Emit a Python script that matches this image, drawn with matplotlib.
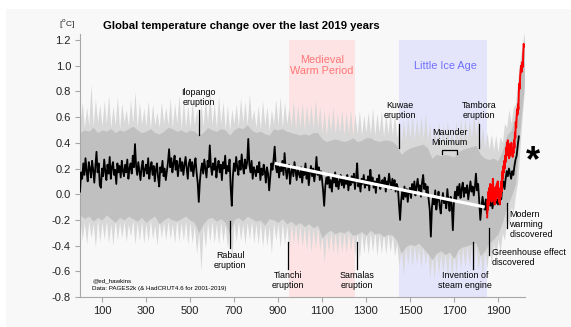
import matplotlib
matplotlib.use('Agg')
import matplotlib.pyplot as plt
import numpy as np
from matplotlib.patches import Rectangle

plt.rcParams['font.family'] = ['Liberation Sans', 'DejaVu Sans']

# ---------------- data ----------------
# PAGES2k reconstruction (black), 5-year steps from year 0
black_years = np.arange(0, 2000, 5)
black_vals = [
    0.02, 0.17, 0.12, 0.24, 0.15, 0.28, 0.18, 0.10, 0.25, 0.20, 0.13, 0.26, 0.19, 0.09, 0.22, 0.33, 0.17, 0.24, 0.07, 0.05,
    0.20, 0.14, 0.27, 0.18, 0.11, 0.23, 0.16, 0.29, 0.12, 0.21, 0.25, 0.15, 0.19, 0.08, 0.24, 0.17, 0.22, 0.13, 0.26, 0.18,
    0.14, 0.23, 0.17, 0.27, 0.12, 0.20, 0.24, 0.16, 0.30, 0.21, 0.39, 0.22, 0.15, 0.25, 0.18, 0.11, 0.21, 0.26, 0.14, 0.19,
    0.23, 0.16, 0.28, 0.12, 0.20, 0.25, 0.15, 0.22, 0.10, 0.19, 0.24, 0.13, 0.06, 0.21, 0.17, 0.26, 0.14, 0.20, 0.11, 0.18,
    0.25, 0.35, 0.21, 0.28, 0.17, 0.24, 0.30, 0.19, 0.26, 0.14, 0.22, 0.28, 0.18, 0.25, 0.15, 0.23, 0.29, 0.20, 0.12, 0.24,
    0.27, 0.18, 0.25, 0.14, 0.22, 0.28, 0.17, 0.09, -0.06, 0.10, 0.19, 0.24, 0.16, 0.27, 0.20, 0.13, 0.26, 0.21, 0.38, 0.22,
    0.15, 0.24, 0.19, 0.28, 0.13, 0.21, 0.26, 0.17, 0.23, 0.11, 0.25, 0.20, 0.30, 0.16, 0.22, 0.18, 0.27, 0.05, -0.09, 0.14,
    0.24, 0.18, 0.29, 0.21, 0.15, 0.26, 0.19, 0.31, 0.22, 0.16, 0.27, 0.20, 0.25, 0.43, 0.23, 0.17, 0.26, 0.12, 0.21, 0.18,
    0.14, 0.22, 0.17, 0.25, 0.11, 0.20, 0.15, 0.23, 0.18, 0.09, 0.21, 0.16, 0.03, 0.14, 0.24, 0.19, 0.27, 0.37, 0.22, 0.17,
    0.24, 0.13, 0.21, 0.18, 0.26, 0.15, 0.32, 0.20, 0.12, 0.19, 0.23, 0.08, 0.17, 0.22, 0.14, 0.25, 0.18, 0.11, 0.20, 0.16,
    0.13, 0.21, 0.09, 0.18, 0.15, 0.24, 0.12, 0.19, 0.07, 0.16, 0.22, 0.14, 0.20, 0.10, 0.17, 0.29, 0.15, 0.21, 0.11, 0.18,
    0.12, 0.03, -0.09, 0.06, 0.13, 0.08, 0.16, 0.05, 0.11, 0.02, 0.14, 0.09, 0.17, 0.06, 0.12, 0.04, 0.10, 0.15, 0.07, 0.13,
    0.05, 0.12, 0.08, 0.15, 0.03, 0.11, 0.07, 0.14, 0.09, 0.16, 0.04, 0.13, 0.24, 0.06, 0.10, 0.02, 0.12, 0.08, 0.15, 0.05,
    0.11, 0.07, 0.14, 0.03, 0.19, 0.09, 0.13, 0.05, 0.10, 0.01, 0.12, 0.08, 0.15, 0.04, 0.09, 0.11, 0.06, 0.13, 0.02, 0.10,
    0.07, 0.16, 0.09, 0.04, 0.12, 0.06, 0.11, 0.02, 0.08, 0.05, -0.08, -0.20, -0.05, 0.03, -0.04, 0.06, -0.02, 0.04, -0.06, 0.02,
    0.05, -0.03, 0.08, 0.02, 0.10, -0.01, 0.06, 0.12, 0.03, 0.07, -0.02, 0.09, 0.15, 0.04, 0.08, 0.01, 0.06, -0.04, -0.12, -0.33,
    -0.10, -0.02, -0.08, 0.03, -0.12, -0.04, 0.02, -0.09, -0.15, -0.05, 0.01, -0.07, -0.03, -0.11, 0.04, -0.06, -0.13, -0.02, -0.08, -0.28,
    -0.06, 0.02, -0.04, 0.06, -0.01, 0.08, -0.03, 0.04, 0.09, -0.02, 0.05, 0.01, 0.07, -0.04, 0.03, 0.10, 0.02, 0.06, -0.01, 0.05,
    0.16, 0.03, 0.08, -0.06, -0.20, -0.10, -0.02, -0.08, -0.12, -0.04, -0.15, -0.06, -0.01, -0.09, -0.03, -0.11, -0.05, 0.02, -0.07, -0.04,
    -0.08, -0.02, 0.03, -0.04, 0.06, 0.10, 0.04, 0.12, 0.18, 0.14, 0.20, 0.16, 0.12, 0.18, 0.15, 0.22, 0.27, 0.30, 0.38, 0.45,
]

# HadCRUT-based recent series (red), 2-year steps
red_years = np.arange(1851, 2020, 2)
red_vals = [
    -0.18, -0.05, -0.12, 0.02, -0.08,
    0.05, -0.03, 0.08, -0.02, 0.04,
    -0.06, 0.07, 0.01, 0.12, 0.03,
    -0.04, 0.05, -0.08, 0.02, -0.05,
    0.06, -0.03, 0.08, 0.01, 0.10,
    -0.02, 0.05, -0.06, 0.04, -0.08,
    0.03, -0.02, 0.10, 0.02, 0.14,
    0.18, 0.12, 0.22, 0.17, 0.26,
    0.20, 0.30, 0.25, 0.36, 0.31,
    0.40, 0.34, 0.42, 0.30, 0.36,
    0.28, 0.39, 0.30, 0.37, 0.33,
    0.40, 0.31, 0.36, 0.29, 0.35,
    0.32, 0.42, 0.36, 0.48, 0.44,
    0.56, 0.52, 0.60, 0.66, 0.62,
    0.70, 0.66, 0.80, 0.86, 0.82,
    0.92, 0.96, 1.00, 0.95, 0.98,
    1.03, 0.99, 1.10, 1.17, 1.15,
]

# ensemble spread: core range (20-yr steps) and outer extremes (10-yr steps)
core_years = np.arange(0, 2021, 20)
core_hi = [
    0.48, 0.50, 0.49, 0.52, 0.48, 0.50, 0.49, 0.51, 0.48, 0.50,
    0.49, 0.51, 0.53, 0.50, 0.48, 0.49, 0.51, 0.48, 0.47, 0.49,
    0.52, 0.51, 0.49, 0.50, 0.48, 0.50, 0.49, 0.46, 0.48, 0.52,
    0.50, 0.49, 0.51, 0.50, 0.46, 0.50, 0.52, 0.51, 0.54, 0.50,
    0.48, 0.49, 0.47, 0.46, 0.51, 0.50, 0.51, 0.49, 0.48, 0.47,
    0.46, 0.47, 0.46, 0.48, 0.48, 0.43, 0.41, 0.42, 0.43, 0.42,
    0.41, 0.42, 0.44, 0.41, 0.42, 0.44, 0.44, 0.42, 0.41, 0.42,
    0.42, 0.41, 0.38, 0.31, 0.34, 0.36, 0.37, 0.38, 0.39, 0.36,
    0.28, 0.31, 0.30, 0.31, 0.30, 0.29, 0.33, 0.35, 0.36, 0.37,
    0.38, 0.31, 0.28, 0.27, 0.28, 0.26, 0.34, 0.46, 0.50, 0.62,
    0.95, 1.22,
]
core_lo = [
    -0.16, -0.19, -0.17, -0.21, -0.18, -0.20, -0.16, -0.19, -0.22, -0.18,
    -0.20, -0.17, -0.19, -0.21, -0.18, -0.22, -0.19, -0.17, -0.23, -0.20,
    -0.18, -0.20, -0.21, -0.19, -0.17, -0.20, -0.22, -0.30, -0.23, -0.19,
    -0.18, -0.21, -0.19, -0.22, -0.31, -0.20, -0.18, -0.21, -0.17, -0.19,
    -0.21, -0.20, -0.24, -0.19, -0.20, -0.22, -0.19, -0.23, -0.21, -0.24,
    -0.22, -0.25, -0.23, -0.26, -0.24, -0.34, -0.30, -0.28, -0.31, -0.29,
    -0.30, -0.28, -0.32, -0.31, -0.29, -0.32, -0.28, -0.31, -0.30, -0.33,
    -0.31, -0.32, -0.36, -0.46, -0.41, -0.39, -0.40, -0.38, -0.42, -0.46,
    -0.51, -0.46, -0.44, -0.47, -0.45, -0.50, -0.43, -0.41, -0.40, -0.39,
    -0.38, -0.48, -0.44, -0.38, -0.35, -0.31, -0.22, -0.10, -0.02, 0.08,
    0.50, 0.85,
]
outer_years = np.arange(0, 2021, 10)
outer_hi = [
    0.55, 0.72, 0.52, 0.68, 0.54, 0.86, 0.53, 0.74, 0.56, 0.70,
    0.53, 0.73, 0.55, 0.77, 0.52, 0.69, 0.54, 0.76, 0.51, 0.71,
    0.56, 0.66, 0.53, 0.74, 0.55, 0.80, 0.52, 0.72, 0.54, 0.67,
    0.53, 0.73, 0.51, 0.70, 0.54, 0.64, 0.52, 0.72, 0.55, 0.68,
    0.54, 0.75, 0.52, 0.71, 0.55, 0.77, 0.51, 0.73, 0.53, 0.69,
    0.52, 0.72, 0.54, 0.66, 0.50, 0.70, 0.53, 0.75, 0.56, 0.80,
    0.54, 0.71, 0.52, 0.76, 0.55, 0.72, 0.51, 0.69, 0.50, 0.66,
    0.55, 0.70, 0.53, 0.75, 0.56, 0.72, 0.54, 0.78, 0.57, 0.66,
    0.52, 0.69, 0.51, 0.73, 0.54, 0.68, 0.50, 0.66, 0.55, 0.74,
    0.54, 0.76, 0.52, 0.72, 0.55, 0.68, 0.53, 0.73, 0.51, 0.70,
    0.52, 0.72, 0.50, 0.69, 0.53, 0.70, 0.51, 0.74, 0.52, 0.68,
    0.48, 0.66, 0.46, 0.64, 0.49, 0.68, 0.47, 0.63, 0.48, 0.66,
    0.46, 0.64, 0.48, 0.66, 0.45, 0.63, 0.47, 0.65, 0.46, 0.62,
    0.48, 0.64, 0.47, 0.67, 0.46, 0.63, 0.48, 0.65, 0.45, 0.62,
    0.47, 0.64, 0.46, 0.62, 0.44, 0.56, 0.40, 0.58, 0.42, 0.60,
    0.43, 0.62, 0.42, 0.59, 0.44, 0.61, 0.43, 0.63, 0.42, 0.55,
    0.36, 0.54, 0.38, 0.57, 0.37, 0.55, 0.38, 0.58, 0.37, 0.52,
    0.38, 0.57, 0.40, 0.59, 0.41, 0.60, 0.42, 0.58, 0.44, 0.62,
    0.45, 0.60, 0.38, 0.52, 0.36, 0.48, 0.35, 0.47, 0.34, 0.46,
    0.33, 0.45, 0.40, 0.55, 0.52, 0.66, 0.55, 0.68, 0.70, 0.90,
    1.05, 1.15, 1.27,
]
outer_lo = [
    -0.20, -0.36, -0.22, -0.39, -0.21, -0.34, -0.23, -0.41, -0.20, -0.37,
    -0.22, -0.35, -0.21, -0.38, -0.23, -0.40, -0.20, -0.36, -0.22, -0.34,
    -0.21, -0.37, -0.23, -0.33, -0.20, -0.39, -0.22, -0.36, -0.21, -0.38,
    -0.23, -0.37, -0.20, -0.35, -0.24, -0.40, -0.21, -0.34, -0.22, -0.36,
    -0.21, -0.35, -0.23, -0.38, -0.20, -0.37, -0.22, -0.36, -0.21, -0.39,
    -0.22, -0.38, -0.24, -0.46, -0.30, -0.60, -0.25, -0.42, -0.22, -0.37,
    -0.21, -0.38, -0.23, -0.39, -0.22, -0.37, -0.24, -0.42, -0.28, -0.50,
    -0.22, -0.37, -0.21, -0.36, -0.23, -0.39, -0.22, -0.35, -0.21, -0.38,
    -0.23, -0.39, -0.22, -0.41, -0.24, -0.40, -0.25, -0.46, -0.22, -0.36,
    -0.23, -0.41, -0.22, -0.39, -0.24, -0.43, -0.23, -0.38, -0.24, -0.40,
    -0.24, -0.41, -0.25, -0.43, -0.24, -0.45, -0.26, -0.42, -0.25, -0.44,
    -0.32, -0.53, -0.30, -0.45, -0.29, -0.46, -0.30, -0.47, -0.29, -0.45,
    -0.30, -0.46, -0.29, -0.44, -0.31, -0.48, -0.30, -0.51, -0.29, -0.46,
    -0.31, -0.47, -0.30, -0.45, -0.29, -0.48, -0.31, -0.46, -0.30, -0.47,
    -0.31, -0.45, -0.32, -0.48, -0.38, -0.56, -0.42, -0.63, -0.40, -0.55,
    -0.39, -0.56, -0.40, -0.54, -0.41, -0.57, -0.40, -0.55, -0.42, -0.65,
    -0.48, -0.66, -0.45, -0.62, -0.46, -0.61, -0.45, -0.63, -0.44, -0.64,
    -0.46, -0.61, -0.42, -0.58, -0.41, -0.57, -0.40, -0.56, -0.41, -0.59,
    -0.40, -0.58, -0.46, -0.64, -0.44, -0.58, -0.40, -0.54, -0.38, -0.50,
    -0.35, -0.45, -0.30, -0.36, -0.18, -0.25, -0.10, -0.14, 0.00, 0.10,
    0.35, 0.60, 0.80,
]

# linear trend through the pre-industrial millennium (end points)
trend_years = [886, 1840]
trend_vals = [0.24, -0.10]

# periods
mwp_years = [950, 1250]
lia_years = [1450, 1850]

# events
ilopango, rabaul, tianchi, samalas = 539, 683, 946, 1258
kuwae, tambora, steam, greenhouse, modern = 1452, 1815, 1788, 1860, 1941
maunder = [1645, 1715]

x_ticks = [100, 300, 500, 700, 900, 1100, 1300, 1500, 1700, 1900]
y_ticks = [-0.8, -0.6, -0.4, -0.2, 0.0, 0.2, 0.4, 0.6, 0.8, 1.0, 1.2]

# ---------------- figure ----------------
W, H = 571, 327
fig = plt.figure(figsize=(W / 100, H / 100), dpi=100)
fig.patch.set_facecolor('white')
fig.patches.append(Rectangle((6 / W, 0), 1, 1 - 9 / H, transform=fig.transFigure,
                             facecolor='#f8f8f8', edgecolor='none', zorder=-10))

ax = fig.add_axes([80 / W, 30 / H, 445 / W, 263.4 / H])
ax.set_facecolor('none')
ax.set_xlim(0, 2023)
ax.set_ylim(-0.8, 1.25)

# shaded periods
ax.fill_between(mwp_years, -0.8, 1.2, color='#fde3e3', lw=0, zorder=0)
ax.fill_between(lia_years, -0.8, 1.2, color='#e4e4fb', lw=0, zorder=0)
ax.text(np.mean(mwp_years), 1.0, 'Medieval\nWarm Period', color='#ff7676',
        ha='center', va='center', fontsize=7.8, linespacing=1.1, zorder=1)
ax.text(1660, 0.995, 'Little Ice Age', color='#7070ff',
        ha='center', va='center', fontsize=7.8, zorder=1)

# spread
ax.fill_between(outer_years, outer_lo, outer_hi, color='#d8d8d8', lw=0, zorder=2)
ax.fill_between(core_years, core_lo, core_hi, color='#c0c0c0', lw=0, zorder=2.5)

# series
ax.plot(black_years, black_vals, color='black', lw=1.3, zorder=3)
ax.plot(trend_years, trend_vals, color='white', lw=2.3, solid_capstyle='butt', zorder=4)
ax.plot(red_years, red_vals, color='#ff0000', lw=1.4, zorder=5)

# annotations
fs = 6.4
lw_a = 0.9

def vline(x, y0, y1):
    ax.plot([x, x], [y0, y1], color='black', lw=lw_a, zorder=6)

vline(ilopango, 0.46, 0.655)
ax.text(ilopango, 0.675, 'Ilopango\neruption', ha='center', va='bottom', fontsize=fs, linespacing=1.15)

vline(rabaul, -0.21, -0.42)
ax.text(rabaul, -0.445, 'Rabaul\neruption', ha='center', va='top', fontsize=fs, linespacing=1.15)

vline(tianchi, -0.37, -0.58)
ax.text(tianchi, -0.6, 'Tianchi\neruption', ha='center', va='top', fontsize=fs, linespacing=1.15)

vline(samalas, -0.37, -0.58)
ax.text(samalas, -0.6, 'Samalas\neruption', ha='center', va='top', fontsize=fs, linespacing=1.15)

vline(steam, -0.37, -0.58)
ax.text(1750, -0.6, 'Invention of\nsteam engine', ha='center', va='top', fontsize=fs, linespacing=1.15)

vline(kuwae, 0.36, 0.55)
ax.text(kuwae, 0.575, 'Kuwae\neruption', ha='center', va='bottom', fontsize=fs, linespacing=1.15)

vline(tambora, 0.36, 0.55)
ax.text(tambora, 0.575, 'Tambora\neruption', ha='center', va='bottom', fontsize=fs, linespacing=1.15)

ax.text(np.mean(maunder), 0.37, 'Maunder\nMinimum', ha='center', va='bottom', fontsize=fs, linespacing=1.15)
ax.plot([maunder[0], maunder[0], maunder[1], maunder[1]], [0.31, 0.342, 0.342, 0.31],
        color='black', lw=lw_a, zorder=6)

vline(greenhouse, -0.26, -0.47)
ax.text(greenhouse + 12, -0.42, 'Greenhouse effect\ndiscovered', ha='left', va='top', fontsize=fs, linespacing=1.15)

vline(modern, -0.07, -0.26)
ax.text(modern + 11, -0.12, 'Modern\nwarming\ndiscovered', ha='left', va='top', fontsize=fs, linespacing=1.15)

ax.text(2059, 0.18, '*', fontsize=26, fontweight='bold', ha='center', va='baseline', clip_on=False)

ax.text(55, -0.677, '@ed_hawkins', fontsize=4.5, ha='left', va='center')
ax.text(55, -0.73, 'Data: PAGES2k (& HadCRUT4.6 for 2001-2019)', fontsize=4.5, ha='left', va='center')

# axes styling
for s in ['top', 'right']:
    ax.spines[s].set_visible(False)
for s in ['left', 'bottom']:
    ax.spines[s].set_color('#a8a8a8')
    ax.spines[s].set_linewidth(0.8)
ax.set_xticks(x_ticks)
ax.set_yticks(y_ticks)
ax.set_yticklabels([f'{v:.1f}' for v in y_ticks])
ax.tick_params(colors='#a8a8a8', labelcolor='#222222', labelsize=8, length=3.5, width=0.8, pad=3)

fig.text(103 / W, 1 - 26 / H, 'Global temperature change over the last 2019 years',
         fontsize=8.1, fontweight='bold', ha='left', va='center')
fig.text(67 / W, 1 - 24 / H, r'[$^{\rm o}$C]', fontsize=6, ha='center', va='center', color='#222222')

fig.savefig('out.png', dpi=100, facecolor=fig.get_facecolor())
